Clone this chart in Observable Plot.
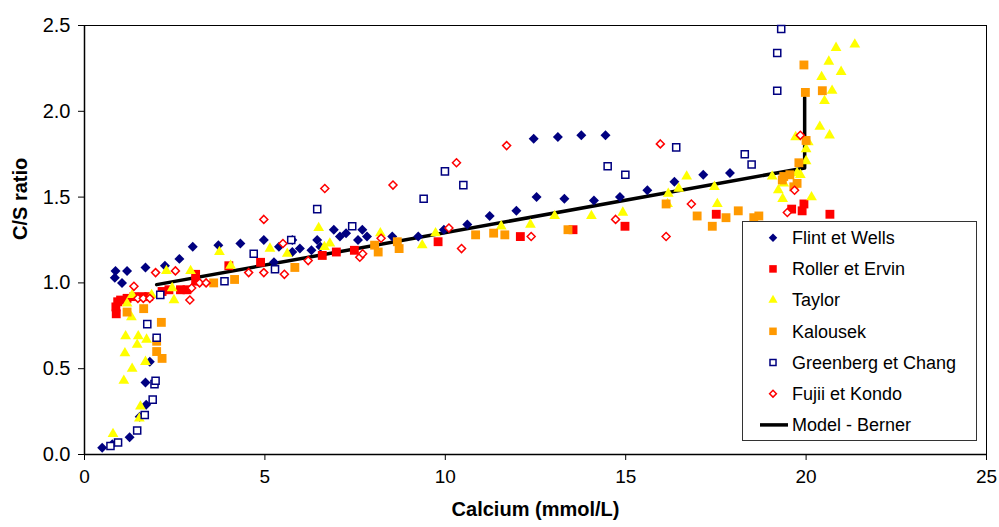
<!DOCTYPE html>
<html><head><meta charset="utf-8">
<script src="https://cdn.jsdelivr.net/npm/d3@7"></script>
<script src="https://cdn.jsdelivr.net/npm/@observablehq/plot@0.6"></script>
<style>
body{margin:0;background:#fff;font-family:"Liberation Sans",Arial,sans-serif;}
#wrap{position:relative;width:999px;height:527px;}
#legend{position:absolute;left:0;top:0;pointer-events:none;}
</style></head><body><div id="wrap"></div>
<script>
const flintWells = [[0.49,0.04],[0.77,0.06],[1.25,0.10],[1.53,0.22],[1.71,0.29],[1.69,0.42],[1.81,0.54],[0.84,1.03],[0.86,1.07],[1.04,1.00],[1.18,1.07],[1.69,1.09],[2.23,1.10],[2.63,1.14],[3.0,1.21],[3.71,1.22],[4.32,1.23],[4.97,1.25],[5.25,1.12],[5.39,1.21],[5.76,1.25],[5.76,1.18],[5.97,1.20],[6.29,1.19],[6.45,1.25],[6.54,1.21],[6.91,1.31],[7.08,1.27],[7.25,1.29],[7.58,1.25],[7.70,1.31],[7.83,1.27],[8.53,1.27],[9.25,1.27],[9.96,1.31],[10.61,1.34],[11.23,1.39],[11.97,1.42],[12.45,1.84],[13.12,1.85],[13.77,1.86],[14.44,1.86],[12.53,1.50],[13.30,1.49],[14.12,1.48],[14.84,1.50],[15.60,1.54],[16.35,1.59],[17.15,1.63],[17.89,1.64]];
const rollerErvin = [[0.87,0.86],[0.88,0.82],[0.92,0.89],[1.0,0.90],[1.18,0.91],[1.37,0.92],[1.6,0.92],[1.78,0.92],[2.15,0.95],[2.34,0.96],[2.66,0.96],[2.84,0.96],[3.08,1.01],[3.08,1.05],[4.0,1.10],[4.88,1.12],[6.59,1.16],[6.98,1.18],[7.48,1.19],[9.80,1.24],[12.08,1.27],[13.54,1.31],[14.98,1.33],[17.51,1.40],[19.60,1.43],[19.89,1.42],[19.94,1.46],[20.66,1.40]];
const taylor = [[0.79,0.12],[1.09,0.43],[1.32,0.50],[1.12,0.59],[1.14,0.69],[1.46,0.64],[1.49,0.69],[1.72,0.67],[1.69,0.54],[1.55,0.28],[1.52,0.21],[1.30,0.80],[1.18,0.88],[1.32,0.93],[1.86,0.93],[2.48,0.90],[2.43,0.97],[2.27,1.07],[2.94,1.07],[3.74,1.18],[4.05,1.10],[5.14,1.20],[5.62,1.17],[6.49,1.32],[6.65,1.21],[6.80,1.23],[8.20,1.29],[9.36,1.22],[9.73,1.29],[11.55,1.33],[12.36,1.34],[13.03,1.39],[14.05,1.39],[14.92,1.41],[16.16,1.46],[16.18,1.52],[16.47,1.55],[16.69,1.62],[17.46,1.56],[17.54,1.46],[19.06,1.62],[19.23,1.54],[19.35,1.49],[19.38,1.58],[19.75,1.64],[19.84,1.63],[20.0,1.71],[20.0,1.78],[20.06,1.82],[19.71,1.85],[20.15,1.50],[20.38,1.91],[20.65,1.86],[20.51,2.06],[20.72,2.12],[20.43,2.20],[20.63,2.29],[20.97,2.23],[20.83,2.37],[21.35,2.39]];
const kalousek = [[1.18,0.83],[1.64,0.85],[2.13,0.77],[2.0,0.66],[2.0,0.60],[2.15,0.56],[3.58,1.00],[4.16,1.02],[5.83,1.09],[8.04,1.22],[8.14,1.18],[8.67,1.24],[8.72,1.20],[10.84,1.28],[11.34,1.29],[11.65,1.28],[13.40,1.31],[16.12,1.46],[16.98,1.39],[17.40,1.33],[17.78,1.38],[18.12,1.42],[18.55,1.38],[18.69,1.39],[19.34,1.60],[19.38,1.62],[19.55,1.63],[19.66,1.56],[19.75,1.58],[19.80,1.70],[20.0,1.83],[19.98,2.11],[19.94,2.27],[20.45,2.12]];
const greenbergChang = [[0.72,0.05],[0.93,0.07],[1.46,0.14],[1.67,0.23],[1.89,0.32],[1.94,0.41],[1.97,0.43],[2.0,0.68],[1.74,0.76],[2.1,0.93],[3.88,1.01],[4.69,1.17],[5.28,1.08],[5.73,1.25],[6.45,1.43],[7.42,1.33],[9.40,1.49],[9.99,1.65],[10.50,1.57],[14.50,1.68],[14.99,1.63],[16.40,1.79],[18.30,1.75],[18.49,1.69],[19.20,2.12],[19.20,2.34],[19.31,2.48]];
const fujiiKondo = [[1.37,0.98],[1.48,0.91],[1.63,0.91],[1.81,0.91],[1.97,1.06],[2.52,1.07],[2.92,0.90],[2.97,0.97],[3.19,1.00],[3.37,1.00],[4.55,1.06],[4.97,1.06],[4.97,1.37],[5.50,1.23],[5.54,1.05],[6.20,1.13],[6.66,1.55],[7.63,1.15],[7.71,1.17],[8.22,1.26],[8.55,1.57],[10.10,1.32],[10.31,1.70],[10.45,1.20],[11.70,1.80],[12.38,1.27],[14.72,1.37],[15.96,1.81],[16.12,1.27],[16.82,1.46],[19.48,1.41],[19.68,1.54],[19.84,1.86]];
const modelBerner = [[2.0,0.99],[19.96,1.67],[19.96,2.08]];

const xTicks = [0,5,10,15,20,25];
const yTicks = [0,0.5,1.0,1.5,2.0,2.5];
const seriesNames = ["Flint et Wells","Roller et Ervin","Taylor","Kalousek","Greenberg et Chang","Fujii et Kondo","Model - Berner"];
const xTitle = "Calcium (mmol/L)";
const yTitle = "C/S ratio";

const FONT = '"Liberation Sans", Arial, sans-serif';
const styles = [
  {symbol:"diamond2", r:4.5, fill:"#000080", stroke:"none", sw:0},
  {symbol:"square", r:5.0, fill:"#FF0000", stroke:"none", sw:0},
  {symbol:"triangle", r:4.0, fill:"#FFFF00", stroke:"none", sw:0},
  {symbol:"square", r:5.0, fill:"#FF9900", stroke:"none", sw:0},
  {symbol:"square", r:4.0, fill:"white", stroke:"#000080", sw:1.5},
  {symbol:"diamond2", r:3.6, fill:"white", stroke:"#FF0000", sw:1.5}
];
const seriesData = [flintWells, rollerErvin, taylor, kalousek, greenbergChang, fujiiKondo];
const toObj = a => a.map(([x,y]) => ({x,y}));

const dotMarks = seriesData.map((d,i) => Plot.dot(toObj(d), {
  x:"x", y:"y", symbol:styles[i].symbol, r:styles[i].r,
  fill:styles[i].fill, stroke:styles[i].stroke, strokeWidth:styles[i].sw
}));

const chart = Plot.plot({
  width:999, height:527, marginLeft:84, marginRight:13, marginTop:25, marginBottom:73,
  style:{fontFamily:FONT, fontSize:"19px", background:"white", color:"black", overflow:"visible"},
  x:{domain:[0,25]},
  y:{domain:[0,2.5]},
  marks:[
    Plot.frame({stroke:"black", strokeWidth:1}),
    Plot.axisX({ticks:xTicks, tickSize:6, tickPadding:9, label:null, fontSize:19}),
    Plot.axisY({ticks:yTicks, tickFormat:d3.format(".1f"), tickSize:6, tickPadding:8, label:null, fontSize:20}),
    Plot.ruleX([0], {stroke:"black", strokeWidth:1.5}),
    Plot.ruleY([0], {stroke:"black", strokeWidth:1.5}),
    Plot.line(toObj(modelBerner), {x:"x", y:"y", stroke:"black", strokeWidth:3.5}),
    ...dotMarks,
    Plot.text([xTitle], {text:d=>d, frameAnchor:"bottom", dy:61, fontWeight:"bold", fontSize:20}),
    Plot.text([yTitle], {text:d=>d, frameAnchor:"left", dx:-64, rotate:-90, fontWeight:"bold", fontSize:20})
  ]
});
const wrap = document.getElementById("wrap");
wrap.appendChild(chart);

// Legend (inside the plot area, as in the reference)
const leg = d3.select(wrap).append("svg").attr("id","legend")
  .attr("width",999).attr("height",527);
const lx = 742, ly = 221, lw = 234, lh = 219, step = 31.2, row0 = 237.7;
leg.append("rect").attr("x",lx+0.5).attr("y",ly+0.5).attr("width",lw).attr("height",lh)
  .attr("fill","white").attr("stroke","#333").attr("stroke-width",1);
const symMap = {diamond2:d3.symbolDiamond2, square:d3.symbolSquare, triangle:d3.symbolTriangle};
seriesNames.forEach((name,i) => {
  const cy = row0 + i*step;
  if (i < styles.length) {
    const s = styles[i];
    const rr = s.r*0.85;
    leg.append("path")
      .attr("d", d3.symbol(symMap[s.symbol], Math.PI*rr*rr)())
      .attr("transform", `translate(773,${cy})`)
      .attr("fill", s.fill).attr("stroke", s.stroke==="none"?null:s.stroke)
      .attr("stroke-width", s.sw);
  } else {
    leg.append("line").attr("x1",760).attr("x2",788).attr("y1",cy).attr("y2",cy)
      .attr("stroke","black").attr("stroke-width",3.5);
  }
  leg.append("text").attr("x",792).attr("y",cy).attr("dy","0.35em")
    .attr("font-family",FONT).attr("font-size",18).attr("fill","black").text(name);
});
</script></body></html>
